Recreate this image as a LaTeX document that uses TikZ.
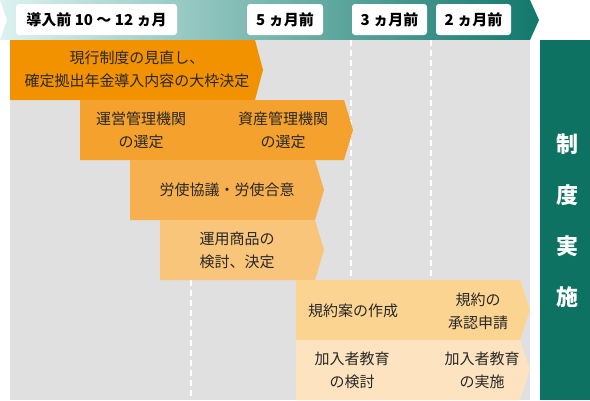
\documentclass[tikz,border=0pt]{standalone}
\usepackage{fontspec}
\setmainfont{Noto Sans CJK JP}
\usetikzlibrary{positioning}

\definecolor{bandL}{RGB}{220,243,240}
\definecolor{bandR}{RGB}{18,120,108}
\definecolor{bggray}{RGB}{224,224,224}
\definecolor{goal}{RGB}{14,114,98}
\definecolor{ora1}{RGB}{243,146,0}
\definecolor{ora2}{RGB}{245,161,45}
\definecolor{ora3}{RGB}{247,176,80}
\definecolor{ora4}{RGB}{249,197,122}
\definecolor{ora5}{RGB}{252,212,146}
\definecolor{ora6}{RGB}{253,227,192}
\definecolor{txt}{RGB}{40,40,40}

\begin{document}
\begin{tikzpicture}[x=1pt, y=-1pt,
    month/.style={fill=white, rounded corners=3pt, minimum height=31pt, inner sep=0pt,
      text=black, font=\bfseries\fontsize{15}{17}\selectfont},
    task/.style={align=center, inner sep=0pt, text=txt, font=\fontsize{15}{23}\selectfont}]
    \useasboundingbox (0,0) rectangle (590,400);

    % Time line band
    \shade[left color=bandL, right color=bandR]
      (0,0) -- (530,0) -- (539,20) -- (530,40) -- (0,40) -- (7,20) -- cycle;
    \node[month, minimum width=161pt] (m12) at (96.5,19.5) {導入前 10 〜 12 ヵ月};
    \node[month, minimum width=76pt] (m5) at (285,19.5) {5 ヵ月前};
    \node[month, minimum width=75pt] (m3) at (389.5,19.5) {3 ヵ月前};
    \node[month, minimum width=75pt] (m2) at (473.5,19.5) {2 ヵ月前};

    % Background and month marks
    \fill[bggray] (10,40) rectangle (530,400);
    \foreach \mx in {191,351,431}
      \draw[white, line width=1.5pt, dash pattern=on 6pt off 4pt] (\mx,40) -- (\mx,400);

    % Goal column
    \fill[goal] (540,40) rectangle (590,400);
    \node[align=center, text=white, inner sep=0pt,
      font=\bfseries\fontsize{22}{51}\selectfont] (goaltext) at (567,221) {制\\度\\実\\施};

    % Steps
    \fill[ora1] (10,40) -- (255,40) -- (263,70) -- (255,100) -- (10,100) -- cycle;
    \node[task] (review) at (137,69) {現行制度の見直し、\\確定拠出年金導入内容の大枠決定};

    \fill[ora2] (80,100) -- (344,100) -- (353,130) -- (344,160) -- (80,160) -- cycle;
    \node[task] (opmgr) at (141,130) {運営管理機関\\の選定};
    \node[task] (asmgr) at (283,130) {資産管理機関\\の選定};

    \fill[ora3] (130,160) -- (315,160) -- (324,190) -- (315,220) -- (130,220) -- cycle;
    \node[task] (labor) at (227,190) {労使協議・労使合意};

    \fill[ora4] (160,220) -- (315,220) -- (324,250) -- (315,280) -- (160,280) -- cycle;
    \node[task] (products) at (237,250) {運用商品の\\検討、決定};

    \fill[ora5] (296,280) -- (520,280) -- (530,310) -- (520,340) -- (296,340) -- cycle;
    \node[task] (draft) at (353,311) {規約案の作成};
    \node[task] (apply) at (478,311) {規約の\\承認申請};

    \fill[ora6] (296,340) -- (520,340) -- (530,370) -- (520,400) -- (296,400) -- cycle;
    \node[task] (eduplan) at (352,370) {加入者教育\\の検討};
    \node[task] (edudo) at (482,370) {加入者教育\\の実施};
\end{tikzpicture}
\end{document}
